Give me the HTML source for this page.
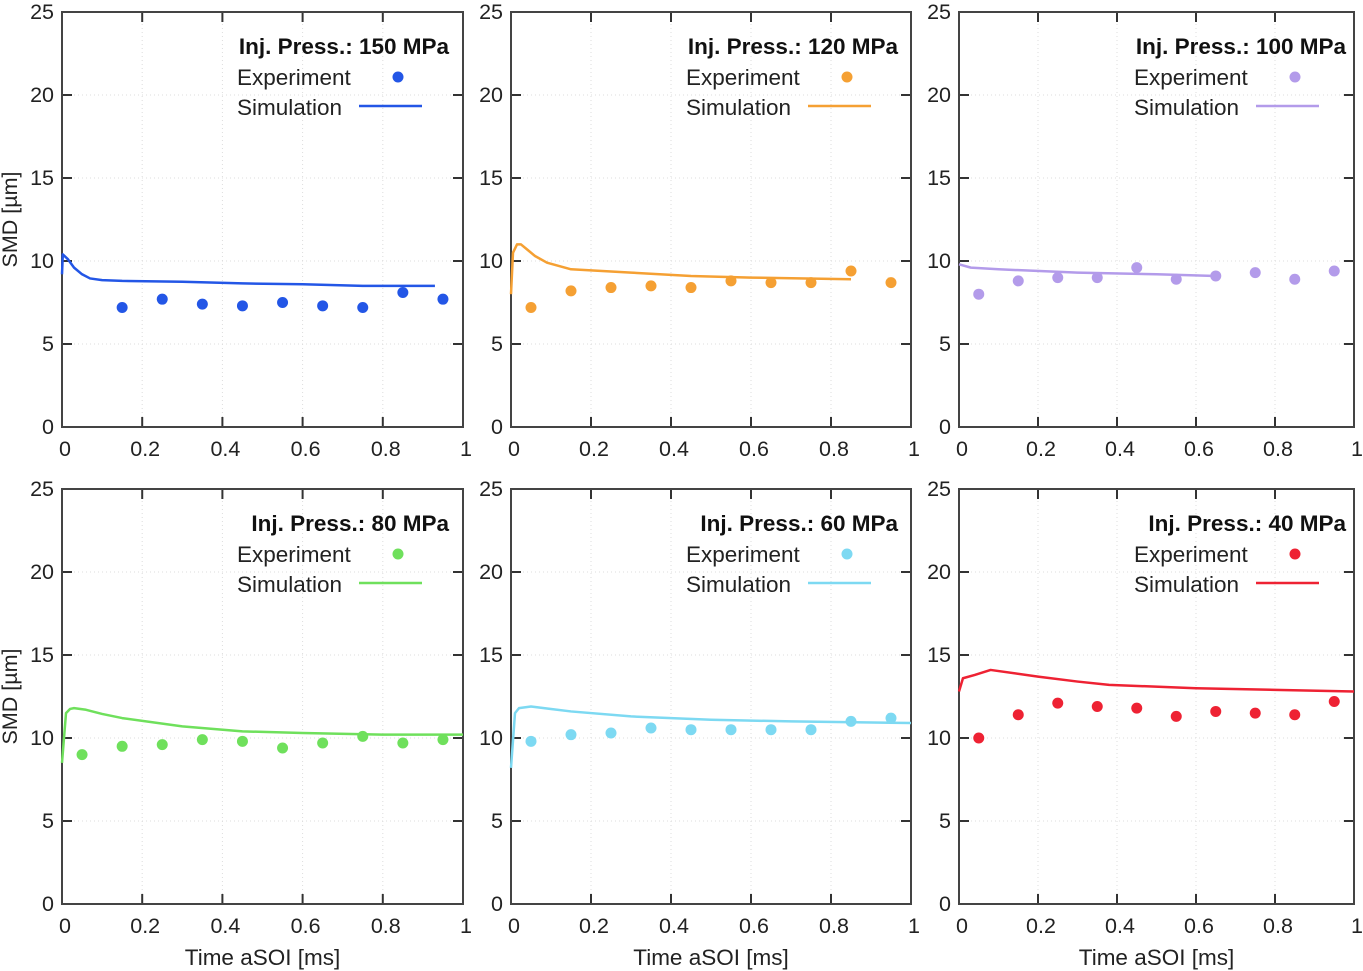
<!DOCTYPE html>
<html><head><meta charset="utf-8"><style>
body{margin:0;background:#fff}
svg{display:block;font-family:"Liberation Sans",sans-serif}
</style></head><body>
<svg id="c" width="1363" height="971"></svg>
<script>
const titles=["Inj. Press.: 150 MPa","Inj. Press.: 120 MPa","Inj. Press.: 100 MPa","Inj. Press.: 80 MPa","Inj. Press.: 60 MPa","Inj. Press.: 40 MPa"];
const colors=["#2356e6","#f5a033","#b39bea","#6fe05c","#7dd9f2","#ee2233"];
const expX=[[0.15,0.25,0.35,0.45,0.55,0.65,0.75,0.85,0.95],[0.05,0.15,0.25,0.35,0.45,0.55,0.65,0.75,0.85,0.95],[0.05,0.15,0.25,0.35,0.45,0.55,0.65,0.75,0.85,0.95],[0.05,0.15,0.25,0.35,0.45,0.55,0.65,0.75,0.85,0.95],[0.05,0.15,0.25,0.35,0.45,0.55,0.65,0.75,0.85,0.95],[0.05,0.15,0.25,0.35,0.45,0.55,0.65,0.75,0.85,0.95]];
const expY=[[7.2,7.7,7.4,7.3,7.5,7.3,7.2,8.1,7.7],[7.2,8.2,8.4,8.5,8.4,8.8,8.7,8.7,9.4,8.7],[8.0,8.8,9.0,9.0,9.6,8.9,9.1,9.3,8.9,9.4],[9.0,9.5,9.6,9.9,9.8,9.4,9.7,10.1,9.7,9.9],[9.8,10.2,10.3,10.6,10.5,10.5,10.5,10.5,11.0,11.2],[10.0,11.4,12.1,11.9,11.8,11.3,11.6,11.5,11.4,12.2]];
const simX=[[0,0.002,0.015,0.03,0.05,0.07,0.1,0.15,0.3,0.45,0.6,0.75,0.93],[0,0.005,0.015,0.025,0.04,0.06,0.09,0.15,0.3,0.45,0.6,0.85],[0,0.03,0.1,0.3,0.5,0.65],[0,0.01,0.02,0.03,0.06,0.1,0.15,0.3,0.45,0.6,0.8,1],[0,0.01,0.02,0.05,0.1,0.15,0.3,0.5,0.7,1],[0,0.01,0.04,0.08,0.2,0.3,0.38,0.6,0.8,1]];
const simY=[[9.2,10.4,10.1,9.6,9.2,8.95,8.85,8.8,8.75,8.65,8.6,8.5,8.5],[8.0,10.5,11.0,11.0,10.7,10.3,9.9,9.5,9.3,9.1,9.0,8.9],[9.8,9.6,9.5,9.3,9.2,9.1],[8.5,11.5,11.75,11.8,11.7,11.45,11.2,10.7,10.4,10.3,10.2,10.2],[8.2,11.5,11.8,11.9,11.75,11.6,11.3,11.1,11.0,10.9],[12.8,13.6,13.8,14.1,13.7,13.4,13.2,13.0,12.9,12.8]];
const xTicks=["0","0.2","0.4","0.6","0.8","1"];
const yTicks=["0","5","10","15","20","25"];
const NS="http://www.w3.org/2000/svg";
const svg=document.getElementById('c');
function mk(tag,attrs,parent,text){const e=document.createElementNS(NS,tag);for(const k in attrs)e.setAttribute(k,attrs[k]);if(text!==undefined)e.textContent=text;parent.appendChild(e);return e;}
const lefts=[62,511,959],widths=[401,400,395],tops=[12,489],h=415;
for(let p=0;p<6;p++){
 const L=lefts[p%3],W=widths[p%3],T=tops[Math.floor(p/3)],B=T+h,R=L+W;
 const sx=v=>L+v*W, sy=v=>B-v/25*h;
 const g=mk('g',{},svg);
 
 
 for(let i=1;i<5;i++){const x=sx(i*0.2);mk('line',{x1:x,x2:x,y1:T,y2:B,stroke:'#ddd','stroke-dasharray':'1 3'},g);}
 for(let i=1;i<5;i++){const y=sy(i*5);mk('line',{x1:L,x2:R,y1:y,y2:y,stroke:'#ddd','stroke-dasharray':'1 3'},g);}
 xTicks.forEach((t,i)=>{const x=sx(i*0.2);
  mk('line',{x1:x,x2:x,y1:B,y2:B-10,stroke:'#333','stroke-width':2},g);mk('line',{x1:x,x2:x,y1:T,y2:T+10,stroke:'#333','stroke-width':2},g);
  const tx=mk('text',{x:x+3,y:B+29,'text-anchor':'middle','font-size':21.5,fill:'#222'},g,t);
  
  });
 yTicks.forEach((t,i)=>{const y=sy(i*5);
  mk('line',{x1:L,x2:L+10,y1:y,y2:y,stroke:'#333','stroke-width':2},g);mk('line',{x1:R,x2:R-10,y1:y,y2:y,stroke:'#333','stroke-width':2},g);
  const ty=mk('text',{x:L-8,y:y+7,'text-anchor':'end','font-size':21.5,fill:'#222'},g,t);
  
  });
 mk('rect',{x:L,y:T,width:W,height:h,fill:'none',stroke:'#444','stroke-width':2},g);
 const line=mk('polyline',{points:simX[p].map((x,i)=>sx(x)+','+sy(simY[p][i])).join(' '),fill:'none',stroke:colors[p],'stroke-width':2.5,'stroke-linejoin':'round'},g);
 
 
 expX[p].forEach((x,i)=>{const c=mk('circle',{cx:sx(x),cy:sy(expY[p][i]),r:5.5,fill:colors[p]},g);
  
  });
 const tt=mk('text',{x:L+387,y:T+42,'text-anchor':'end','font-size':22.5,'font-weight':'bold',fill:'#111'},g,titles[p]);
 
 
 const le=mk('text',{x:L+175,y:T+73,'font-size':22.5,fill:'#222'},g,'Experiment');
 
 
 mk('circle',{cx:L+336,cy:T+65,r:5.5,fill:colors[p]},g);
 const ls=mk('text',{x:L+175,y:T+103,'font-size':22.5,fill:'#222'},g,'Simulation');
 
 
 mk('line',{x1:L+297,x2:L+360,y1:T+94,y2:T+94,stroke:colors[p],'stroke-width':2.5},g);
 if(p%3===0){const yt=mk('text',{x:0,y:0,'font-size':21.5,fill:'#222','text-anchor':'middle',transform:`translate(17,${(T+B)/2}) rotate(-90)`},g,'SMD [µm]');
  
  }
 if(p>=3){const xt=mk('text',{x:(L+R)/2,y:965,'font-size':22.5,fill:'#222','text-anchor':'middle'},g,'Time aSOI [ms]');
  
  }
}
</script>
</body></html>
